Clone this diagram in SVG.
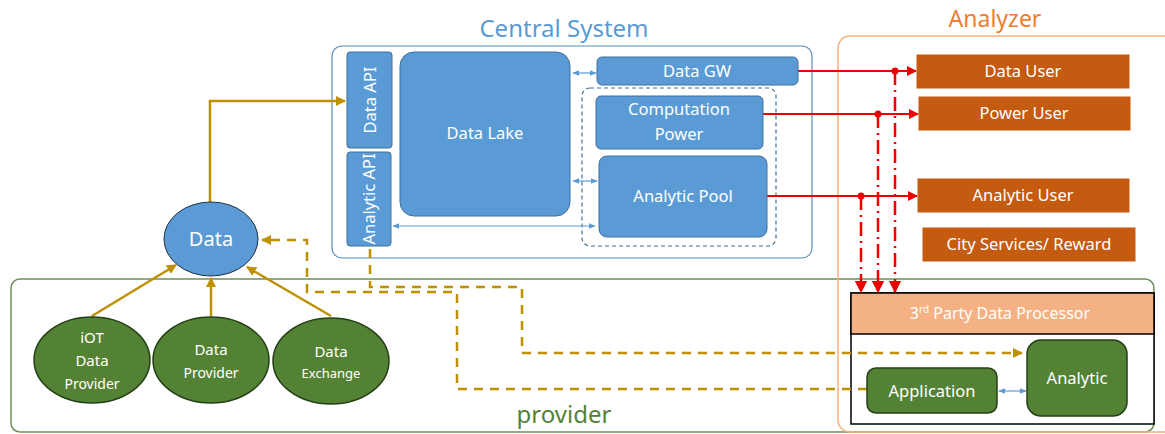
<svg xmlns="http://www.w3.org/2000/svg" width="1165" height="434" viewBox="0 0 1165 434">
<style>
text{font-family:"Noto Sans","Open Sans","DejaVu Sans",sans-serif;}
.blue{fill:#5b9bd5;stroke:#41719c;stroke-width:1;}
.wt{fill:#ffffff;font-size:16.5px;text-anchor:middle;}
.org{fill:#c55a11;stroke:#c55a11;}
.grn{fill:#548235;stroke:#243f16;stroke-width:1.5;}
.gold{fill:none;stroke:#bf9000;stroke-width:2.5;}
.goldd{fill:none;stroke:#bf9000;stroke-width:2.5;stroke-dasharray:9,7;}
.red{fill:none;stroke:#ee0000;stroke-width:2;}
.redd{fill:none;stroke:#ee0000;stroke-width:2.5;stroke-dasharray:14,5,2,5;}
.lb{fill:none;stroke:#5b9bd5;stroke-width:1.2;}
</style>
<defs>
<marker id="ag" viewBox="0 0 10 10" refX="9" refY="5" markerWidth="4" markerHeight="4" orient="auto-start-reverse"><path d="M0,0L10,5L0,10z" fill="#bf9000"/></marker>
<marker id="ar" viewBox="0 0 10 10" refX="9" refY="5" markerWidth="5" markerHeight="5" orient="auto-start-reverse"><path d="M0,0L10,5L0,10z" fill="#ee0000"/></marker>
<marker id="ab" viewBox="0 0 10 10" refX="9" refY="5" markerWidth="6" markerHeight="6" orient="auto-start-reverse"><path d="M0,1L10,5L0,9z" fill="#5b9bd5"/></marker>
</defs>
<rect width="1165" height="434" fill="#ffffff"/>

<g id="containers">
<rect x="11" y="279" width="1143" height="153" rx="9" fill="none" stroke="#6f8f5a" stroke-width="1.5"/>
<rect x="838" y="36" width="340" height="396" rx="12" fill="none" stroke="#f4b183" stroke-width="1.5"/>
<rect x="332" y="46" width="480" height="212" rx="10" fill="none" stroke="#5b8ec0" stroke-width="1.2"/>
<rect x="582" y="88" width="194" height="158" rx="8" fill="none" stroke="#41719c" stroke-width="1.2" stroke-dasharray="4,3"/>
<text x="564" y="37" font-size="24" fill="#5b9bd5" text-anchor="middle">Central System</text>
<text x="995" y="27" font-size="23" fill="#ed7d31" text-anchor="middle">Analyzer</text>
<text x="564" y="423" font-size="24" fill="#548235" text-anchor="middle">provider</text>
</g>

<g id="third-party"><rect x="851" y="293" width="303" height="131" fill="#ffffff" stroke="#000000" stroke-width="1.5"/><rect x="851" y="293" width="303" height="41" fill="#f4b183" stroke="#000000" stroke-width="1.5"/><text class="wt" x="1000" y="319" style="font-size:16px">3<tspan font-size="10" dy="-6">rd</tspan><tspan dy="6"> Party Data Processor</tspan></text></g>

<g id="connectors">
<polyline class="gold" points="210,203 210,101 345,101" marker-end="url(#ag)"/>
<line class="gold" x1="92" y1="316" x2="176" y2="265" marker-end="url(#ag)"/>
<line class="gold" x1="211" y1="316" x2="211" y2="278" marker-end="url(#ag)"/>
<line class="gold" x1="331" y1="316" x2="247" y2="267" marker-end="url(#ag)"/>
<polyline class="goldd" points="867,389 457,389 457,292 307,292 307,240 262,240" marker-end="url(#ag)"/>
<polyline class="goldd" points="370,249 370,287 522,287 522,353 1022,353" marker-end="url(#ag)"/>
<line class="lb" x1="573" y1="73" x2="596" y2="73" marker-start="url(#ab)" marker-end="url(#ab)"/>
<line class="lb" x1="573" y1="181" x2="597" y2="181" marker-start="url(#ab)" marker-end="url(#ab)"/>
<line class="lb" x1="393" y1="226" x2="595" y2="226" marker-start="url(#ab)" marker-end="url(#ab)"/>
<line class="lb" x1="999" y1="391" x2="1026" y2="391" marker-start="url(#ab)" marker-end="url(#ab)"/>
<line class="red" x1="798" y1="71" x2="916" y2="71" marker-end="url(#ar)"/>
<line class="red" x1="763" y1="114" x2="918" y2="114" marker-end="url(#ar)"/>
<line class="red" x1="767" y1="196" x2="917" y2="196" marker-end="url(#ar)"/>
<circle cx="895" cy="71" r="3.5" fill="#ee0000"/>
<circle cx="878" cy="114" r="3.5" fill="#ee0000"/>
<circle cx="861" cy="196" r="3.5" fill="#ee0000"/>
<line class="redd" x1="895" y1="71" x2="895" y2="292" marker-end="url(#ar)"/>
<line class="redd" x1="878" y1="114" x2="878" y2="292" marker-end="url(#ar)"/>
<line class="redd" x1="861" y1="196" x2="861" y2="292" marker-end="url(#ar)"/>
</g>

<g id="data-api"><rect class="blue" x="347" y="52" width="45" height="96" rx="3"/><text class="wt" transform="translate(376,100) rotate(-90)">Data API</text></g>
<g id="analytic-api"><rect class="blue" x="347" y="152" width="44" height="94" rx="3"/><text class="wt" transform="translate(375,199) rotate(-90)">Analytic API</text></g>
<g id="data-lake"><rect class="blue" x="400" y="52" width="170" height="164" rx="14"/><text class="wt" x="485" y="139">Data Lake</text></g>
<g id="data-gw"><rect class="blue" x="597" y="57" width="201" height="28" rx="5"/><text class="wt" x="697" y="77">Data GW</text></g>
<g id="computation-power"><rect class="blue" x="596" y="96" width="167" height="53" rx="5"/><text class="wt" x="679" y="115">Computation</text><text class="wt" x="679" y="140">Power</text></g>
<g id="analytic-pool"><rect class="blue" x="599" y="156" width="168" height="81" rx="8"/><text class="wt" x="683" y="202">Analytic Pool</text></g>

<g id="data-user"><rect class="org" x="917" y="55" width="212" height="33"/><text class="wt" x="1023" y="77">Data User</text></g>
<g id="power-user"><rect class="org" x="919" y="97" width="211" height="33"/><text class="wt" x="1024" y="119">Power User</text></g>
<g id="analytic-user"><rect class="org" x="918" y="179" width="211" height="33"/><text class="wt" x="1023" y="201">Analytic User</text></g>
<g id="city-services"><rect class="org" x="923" y="228" width="212" height="33"/><text class="wt" x="1029" y="250">City Services/ Reward</text></g>

<g id="data"><ellipse cx="211" cy="239" rx="47" ry="37" fill="#5b9bd5" stroke="#203040" stroke-width="1"/><text class="wt" x="211" y="246" style="font-size:20px">Data</text></g>
<g id="iot-provider"><ellipse class="grn" cx="92" cy="360" rx="58" ry="43"/><text class="wt" x="92" y="343" style="font-size:15px">iOT</text><text class="wt" x="92" y="366" style="font-size:15px">Data</text><text class="wt" x="92" y="389" style="font-size:14px">Provider</text></g>
<g id="data-provider"><ellipse class="grn" cx="211" cy="360" rx="58" ry="43"/><text class="wt" x="211" y="355" style="font-size:15px">Data</text><text class="wt" x="211" y="378" style="font-size:14px">Provider</text></g>
<g id="data-exchange"><ellipse class="grn" cx="331" cy="361" rx="58" ry="43"/><text class="wt" x="331" y="357" style="font-size:15px">Data</text><text class="wt" x="331" y="378" style="font-size:13px">Exchange</text></g>

<g id="application"><rect class="grn" x="867" y="368" width="130" height="45" rx="9"/><text class="wt" x="932" y="397">Application</text></g>
<g id="analytic"><rect class="grn" x="1027" y="340" width="100" height="76" rx="14"/><text class="wt" x="1077" y="384">Analytic</text></g>
</svg>
